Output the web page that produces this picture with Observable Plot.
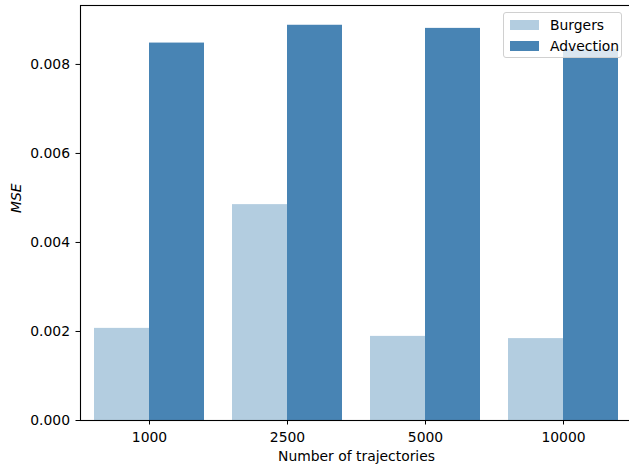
<!DOCTYPE html>
<html>
<head>
<meta charset="utf-8">
<script src="https://cdn.jsdelivr.net/npm/d3@7"></script>
<script src="https://cdn.jsdelivr.net/npm/@observablehq/plot@0.6"></script>
<style>
  html, body { margin: 0; padding: 0; background: #fff; }
  #wrap { position: relative; width: 629px; height: 466px; font-family: "DejaVu Sans", sans-serif; }
  #legend { position: absolute; left: 503px; top: 12px; width: 117px; height: 44px;
    border: 1px solid #d0d0d0; border-radius: 3px; background: rgba(255,255,255,0.8);
    font-size: 13.9px; color: #000; }
  .row { position: absolute; left: 6px; height: 14px; display: flex; align-items: center; }
  .sw { width: 29px; height: 10px; margin-right: 11px; }
</style>
</head>
<body>
<div id="wrap"></div>
<script>
const categories = ["1000", "2500", "5000", "10000"];
const seriesNames = ["Burgers", "Advection"];
const burgers = [0.00207, 0.00485, 0.00189, 0.00184];
const advection = [0.00848, 0.00888, 0.00881, 0.00834];
const yTicks = [0, 0.002, 0.004, 0.006, 0.008];
const colors = ["#b3cde0", "#4884b4"];

const rowsB = categories.map((c, i) => ({category: c, series: "Burgers", value: burgers[i]}));
const rowsA = categories.map((c, i) => ({category: c, series: "Advection", value: advection[i]}));

function makePlot(half) {
  return Plot.plot({
    width: 629,
    height: 466,
    marginLeft: 80,
    marginRight: -3,
    marginTop: 5,
    marginBottom: 46,
    style: {fontFamily: "DejaVu Sans, sans-serif", fontSize: "13.9px", color: "#000", background: "#fff"},
    x: {type: "band", domain: categories, paddingInner: 0.2, paddingOuter: 0.1, label: null, tickSize: 4.5, tickPadding: 7},
    y: {domain: [0, 0.009324], ticks: yTicks, tickFormat: d3.format(".3f"), label: null, tickSize: 4.5, tickPadding: 6},
    color: {domain: seriesNames, range: colors},
    marks: [
      Plot.barY(rowsB, {x: "category", y: "value", fill: "series", insetRight: half}),
      Plot.barY(rowsA, {x: "category", y: "value", fill: "series", insetLeft: half}),
      Plot.frame({stroke: "#000", strokeWidth: 1.1}),
      Plot.text(["MSE"], {frameAnchor: "left", rotate: -90, dx: -64, fontStyle: "italic", fontSize: 13.9, fill: "#000"}),
      Plot.text(["Number of trajectories"], {frameAnchor: "bottom", dy: 36, fontSize: 13.9, fill: "#000", lineAnchor: "middle"})
    ]
  });
}

const probe = makePlot(0);
const bw = probe.scale("x").bandwidth;
const chart = makePlot(bw / 2);
const wrap = document.getElementById("wrap");
wrap.appendChild(chart);

const legend = document.createElement("div");
legend.id = "legend";
seriesNames.forEach((name, i) => {
  const row = document.createElement("div");
  row.className = "row";
  row.style.top = (5 + i * 21) + "px";
  const sw = document.createElement("div");
  sw.className = "sw";
  sw.style.background = colors[i];
  const t = document.createElement("span");
  t.textContent = name;
  row.appendChild(sw);
  row.appendChild(t);
  legend.appendChild(row);
});
wrap.appendChild(legend);
</script>
</body>
</html>
